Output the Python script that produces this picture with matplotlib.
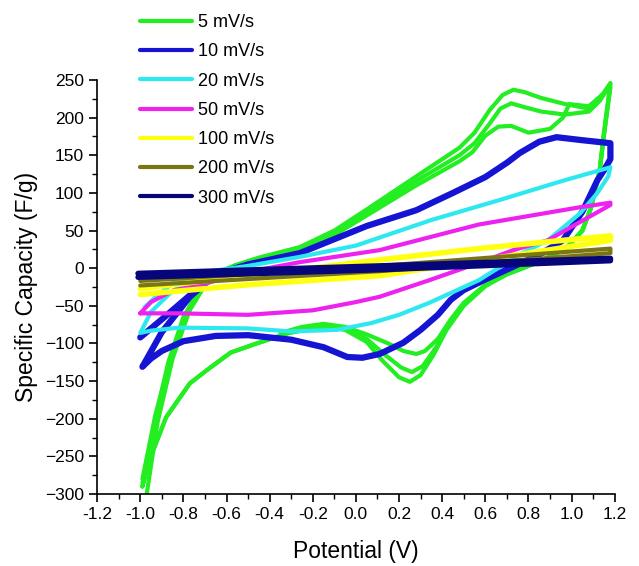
import matplotlib
matplotlib.use("Agg")
import matplotlib.pyplot as plt
from matplotlib.ticker import MultipleLocator

plt.rcParams['font.family'] = ['Liberation Sans', 'DejaVu Sans']

labels = ["5 mV/s", "10 mV/s", "20 mV/s", "50 mV/s", "100 mV/s", "200 mV/s", "300 mV/s"]
colors = ["#22ee22", "#1414d2", "#2ee8f0", "#ee22ee", "#ffff10", "#7a7614", "#06067a"]

# 5 mV/s - three cycles (potential V, specific capacity F/g)
v5_c1 = [-0.99, -0.93, -0.87, -0.80, -0.72, -0.64, -0.56, -0.45, -0.26, -0.10, 0.05, 0.28, 0.48, 0.55, 0.62, 0.68, 0.73, 0.78, 0.86, 0.97, 1.08, 1.13, 1.18,
         1.15, 1.13, 1.09, 1.05, 0.98, 0.90, 0.80, 0.70, 0.60, 0.50, 0.42, 0.36, 0.30, 0.25, 0.20, 0.12, 0.05, -0.05, -0.15, -0.31, -0.46, -0.58, -0.68, -0.77, -0.88, -0.94, -0.99]
c5_c1 = [-290, -200, -125, -65, -25, -6, 4, 14, 28, 50, 78, 122, 160, 180, 210, 230, 237, 234, 226, 218, 212, 225, 246,
         180, 130, 80, 50, 28, 15, 3, -8, -24, -50, -82, -115, -142, -151, -145, -122, -98, -82, -78, -86, -100, -112, -133, -153, -198, -242, -290]
v5_c2 = [-0.99, -0.93, -0.86, -0.78, -0.70, -0.62, -0.54, -0.45, -0.26, -0.10, 0.05, 0.28, 0.48, 0.55, 0.62, 0.67, 0.72, 0.78, 0.86, 0.97, 1.08, 1.13, 1.18,
         1.15, 1.13, 1.09, 1.05, 0.98, 0.90, 0.80, 0.70, 0.60, 0.50, 0.43, 0.37, 0.31, 0.26, 0.21, 0.13, 0.05, -0.05, -0.15, -0.31, -0.46, -0.58, -0.68, -0.77, -0.88, -0.94, -0.99]
c5_c2 = [-280, -195, -120, -60, -22, -4, 5, 13, 26, 46, 74, 116, 150, 166, 192, 212, 219, 214, 208, 204, 208, 222, 244,
         178, 130, 80, 50, 28, 15, 3, -8, -23, -48, -76, -106, -130, -138, -132, -114, -94, -80, -76, -86, -100, -112, -133, -153, -198, -242, -285]
v5_c3 = [-0.97, -0.92, -0.85, -0.77, -0.69, -0.61, -0.53, -0.45, -0.26, -0.10, 0.05, 0.28, 0.48, 0.54, 0.60, 0.66, 0.72, 0.80, 0.90, 0.96, 0.99, 1.08, 1.18,
         1.15, 1.13, 1.09, 1.05, 0.98, 0.90, 0.80, 0.70, 0.60, 0.50, 0.44, 0.38, 0.32, 0.28, 0.22, 0.15, 0.05, -0.05, -0.15, -0.25, -0.35]
c5_c3 = [-300, -205, -120, -55, -18, -2, 6, 12, 24, 44, 70, 110, 142, 154, 176, 188, 189, 180, 185, 200, 218, 215, 240,
         176, 128, 80, 50, 28, 15, 3, -8, -22, -46, -68, -94, -110, -114, -110, -100, -88, -78, -74, -78, -86]

# 10 mV/s
v10 = [-1.00, -0.90, -0.77, -0.65, -0.50, -0.26, 0.05, 0.28, 0.45, 0.60, 0.70, 0.76, 0.85, 0.93, 1.05, 1.18,
       1.18, 1.15, 1.12, 1.05, 0.96, 0.85, 0.73, 0.60, 0.50, 0.44, 0.38, 0.30, 0.22, 0.11, 0.03, -0.04, -0.15, -0.30, -0.50, -0.65, -0.80, -0.90, -0.95, -0.99,
       -0.90, -0.77, -0.65, -0.50]
c10 = [-92, -68, -36, -8, 5, 20, 56, 77, 100, 121, 140, 153, 168, 174, 170, 166,
       145, 130, 117, 75, 37, 18, 2, -15, -29, -42, -62, -82, -99, -114, -119, -118, -105, -95, -89, -90, -97, -110, -120, -131,
       -85, -38, -8, 4]

# 20 mV/s
v20 = [-0.98, -0.92, -0.85, -0.70, -0.50, -0.26, 0.00, 0.35, 0.66, 0.97, 1.18,
       1.17, 1.12, 1.04, 0.89, 0.77, 0.57, 0.34, 0.20, 0.07, -0.09, -0.30, -0.50, -0.82, -0.95, -1.00,
       -0.95, -0.85, -0.70]
c20 = [-52, -36, -20, -5, 3, 15, 30, 64, 90, 117, 134,
       122, 100, 73, 37, 20, -16, -46, -62, -73, -82, -84, -80, -79, -83, -86,
       -58, -30, -8]

# 50 mV/s
v50 = [-1.00, -0.95, -0.85, -0.72, -0.50, -0.26, 0.11, 0.57, 1.04, 1.18,
       1.18, 1.00, 0.89, 0.73, 0.57, 0.34, 0.11, 0.00, -0.20, -0.50, -0.82, -1.00]
c50 = [-60, -45, -30, -22, -5, 8, 24, 58, 81, 87,
       84, 55, 37, 24, 7, -16, -38, -45, -56, -62, -60, -60]

# 100 mV/s
v100 = [-1.00, -0.50, 0.11, 0.60, 1.18, 1.18, 0.80, 0.11, -0.50, -1.00]
c100 = [-27, -10, 11, 27, 43, 37, 20, -10, -22, -35]

# 200 mV/s
v200 = [-1.00, 0.11, 1.18, 1.18, 0.11, -1.00]
c200 = [-17, 3, 26, 20, -4, -23]

# 300 mV/s
v300 = [-1.01, 0.11, 1.18, 1.18, 0.11, -1.01]
c300 = [-7, 3, 13, 10, -2, -12]

fig = plt.figure(figsize=(6.39, 5.66), dpi=100)
ax = fig.add_axes([0.152, 0.1272, 0.810, 0.7315])

lw = 3.0
kw = dict(solid_joinstyle='round', solid_capstyle='round')
ax.plot(v5_c3, c5_c3, color=colors[0], lw=lw, **kw)
ax.plot(v5_c2, c5_c2, color=colors[0], lw=lw, **kw)
ax.plot(v5_c1, c5_c1, color=colors[0], lw=lw, label=labels[0], **kw)
ax.plot(v10, c10, color=colors[1], lw=lw + 1.5, label=labels[1], **kw)
ax.plot(v20, c20, color=colors[2], lw=lw, label=labels[2], **kw)
ax.plot(v50, c50, color=colors[3], lw=lw, label=labels[3], **kw)
ax.plot(v100, c100, color=colors[4], lw=lw + 1, label=labels[4], **kw)
ax.plot(v200, c200, color=colors[5], lw=lw, label=labels[5], **kw)
ax.plot(v300, c300, color=colors[6], lw=lw + 1, label=labels[6], **kw)

ax.set_xlim(-1.2, 1.2)
ax.set_ylim(-300, 250)
ax.spines['top'].set_visible(False)
ax.spines['right'].set_visible(False)
ax.spines['left'].set_linewidth(1.2)
ax.spines['bottom'].set_linewidth(1.2)
ax.xaxis.set_major_locator(MultipleLocator(0.2))
ax.xaxis.set_minor_locator(MultipleLocator(0.1))
ax.yaxis.set_major_locator(MultipleLocator(50))
ax.yaxis.set_minor_locator(MultipleLocator(25))
ax.tick_params(which='major', direction='out', length=6, width=1.2, labelsize=12.5)
ax.tick_params(which='minor', direction='out', length=3.5, width=1.0)
ax.set_xticklabels([f"{t:.1f}" for t in ax.get_xticks()])
ax.set_xlabel("Potential (V)", fontsize=16.5, labelpad=13)
ax.set_ylabel("Specific Capacity (F/g)", fontsize=16.5, labelpad=5)

handles, labs = ax.get_legend_handles_labels()
leg = fig.legend(handles, labs, loc='upper left', bbox_to_anchor=(140 / 639, 1 - 14 / 566),
                 frameon=False, fontsize=13, handlelength=2.9, handletextpad=0.3,
                 labelspacing=0.68, borderpad=0, borderaxespad=0)
for line in leg.get_lines():
    line.set_linewidth(3.0)

fig.savefig("out.png", dpi=100)
